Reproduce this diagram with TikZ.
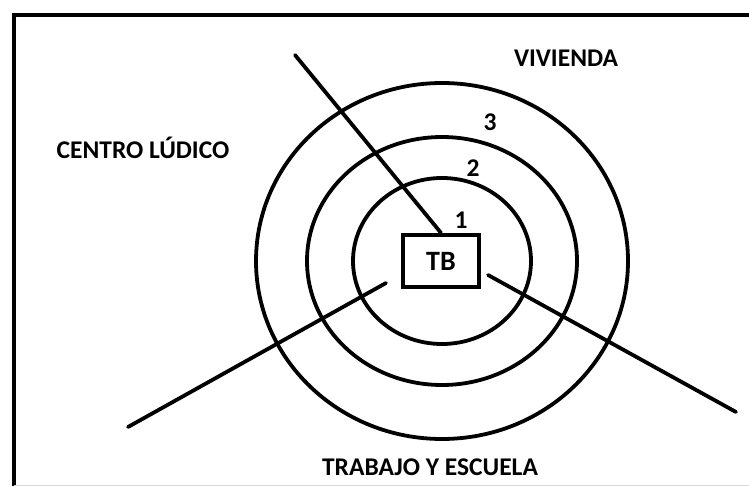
\documentclass[tikz,border=0pt]{standalone}
\usepackage{fontspec}
\setmainfont{Carlito}
\begin{document}
\begin{tikzpicture}[x=1pt, y=-1pt,
		ring/.style={line width=3.8pt},
		spoke/.style={line width=3.8pt, line cap=round},
		lbl/.style={font=\bfseries\fontsize{25.5}{27}\selectfont, inner sep=0pt}]
		\useasboundingbox (0,0) rectangle (749,486);

		% frame
		\draw[line width=4.5pt] (14,500) -- (14,15) -- (770,15);
		\draw[black!15, line width=1pt] (14,485) -- (770,485);

		% rings
		\coordinate (O) at (442,261);
		\draw[ring] (O) ellipse [x radius=186pt, y radius=178pt];
		\draw[ring] (O) ellipse [x radius=135pt, y radius=124pt];
		\draw[ring] (O) ellipse [x radius=89pt, y radius=83pt];

		\node[draw, line width=4.2pt, fill=white, minimum width=76pt, minimum height=52pt, lbl, font=\bfseries\fontsize{28}{30}\selectfont] (TB) at (441,261) {TB};

		\node[lbl] (r1) at (461,220) {1};
		\node[lbl] (r2) at (473,168) {2};
		\node[lbl] (r3) at (490,122) {3};

		\node[lbl] (viv) at (566,58) {VIVIENDA};
		\node[lbl] (lud) at (143,148) {CENTRO LÚDICO};
		\node[lbl] (trab) at (430,467) {TRABAJO Y ESCUELA};

		% spokes
		\coordinate (a1) at (295,55);
		\coordinate (b0) at (386,283);
		\coordinate (b1) at (128,427);
		\coordinate (c0) at (488,275);
		\coordinate (c1) at (736,412);

		\draw[spoke] (TB.north) -- (a1);
		\draw[spoke] (b0) -- (b1);
		\draw[spoke] (c0) -- (c1);
\end{tikzpicture}
\end{document}
